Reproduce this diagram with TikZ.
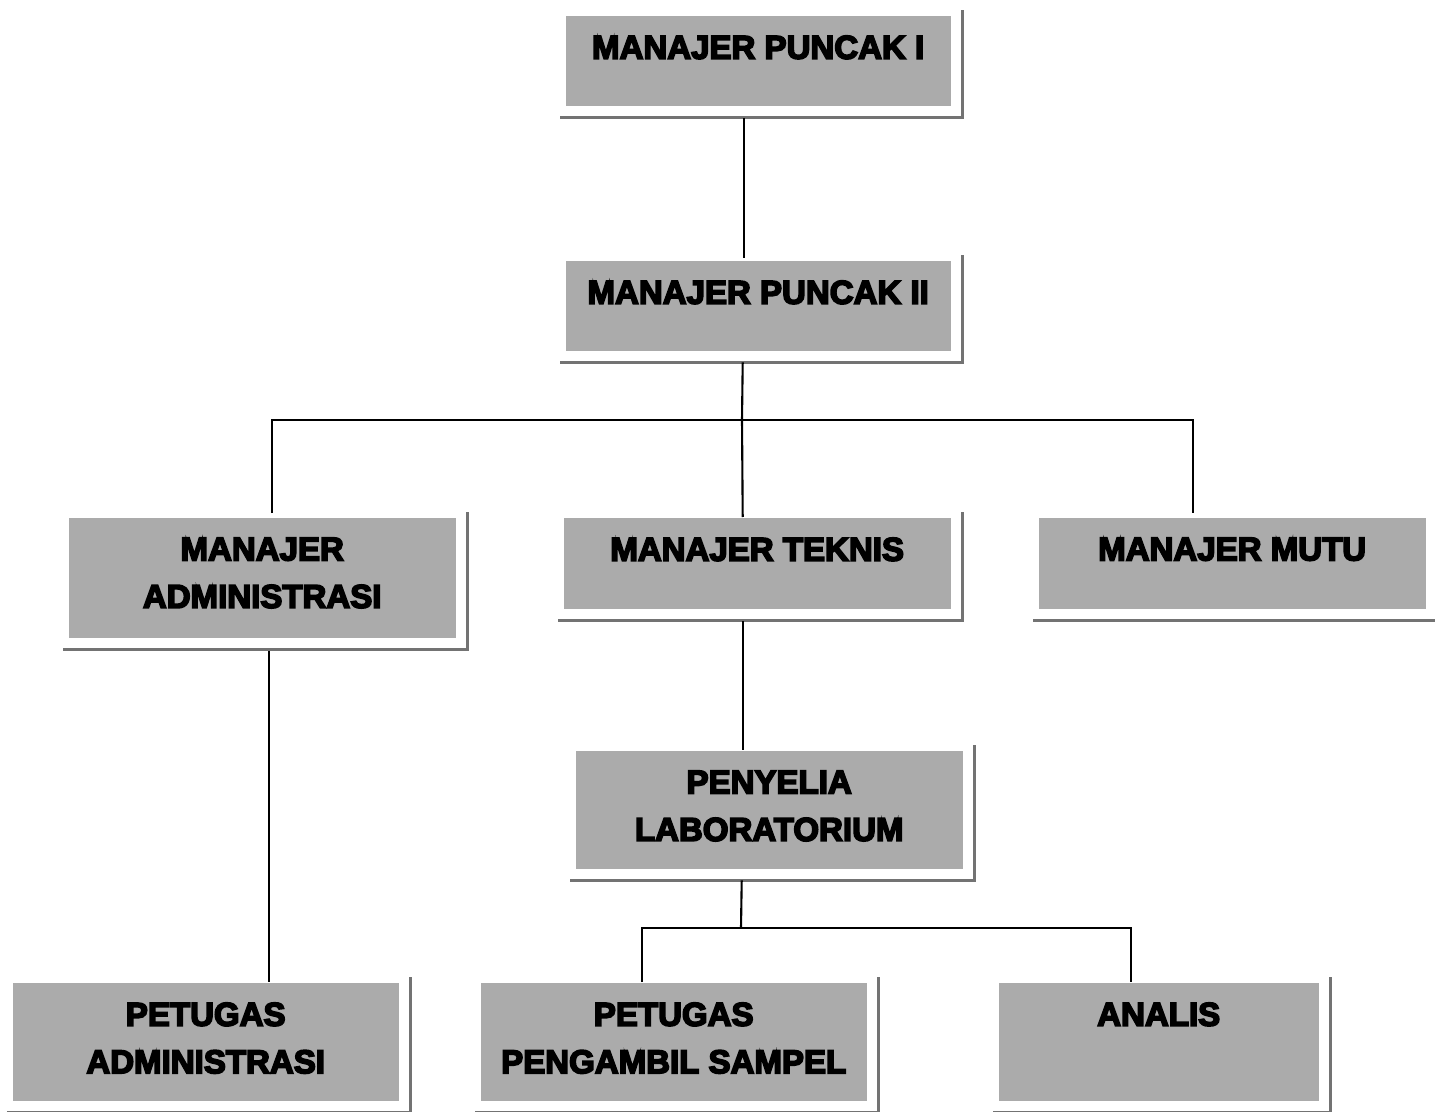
\documentclass[tikz,border=0pt]{standalone}
\usepackage{fontspec}
\usepackage{tikz}
\usetikzlibrary{positioning,calc}
\newfontfamily\boxfont{Liberation Sans Bold}[FakeBold=5]

\tikzset{
    orgbox/.style={fill=black!33, draw=none, anchor=north west, inner sep=0pt},
    orgtext/.style={anchor=north, inner sep=0pt, align=center,
        font=\boxfont\fontsize{9.4}{13.5}\selectfont},
    link/.style={line width=0.6pt, black},
    frameline/.style={line width=0.9pt, black!55}
}

\begin{document}
\begin{tikzpicture}
    \useasboundingbox (0,0) rectangle (14.35,-11.12);

    % boxes
    \node[orgbox, minimum width=3.85cm, minimum height=0.90cm] (mpa) at (5.65,-0.15) {};
    \node[orgbox, minimum width=3.85cm, minimum height=0.90cm] (mpb) at (5.65,-2.60) {};
    \node[orgbox, minimum width=3.87cm, minimum height=1.20cm] (madm) at (0.68,-5.17) {};
    \node[orgbox, minimum width=3.87cm, minimum height=0.91cm] (mtek) at (5.63,-5.17) {};
    \node[orgbox, minimum width=3.87cm, minimum height=0.91cm] (mmutu) at (10.38,-5.17) {};
    \node[orgbox, minimum width=3.87cm, minimum height=1.18cm] (peny) at (5.75,-7.50) {};
    \node[orgbox, minimum width=3.86cm, minimum height=1.18cm] (ptadm) at (0.12,-9.82) {};
    \node[orgbox, minimum width=3.86cm, minimum height=1.18cm] (ptsam) at (4.80,-9.82) {};
    \node[orgbox, minimum width=3.20cm, minimum height=1.18cm] (anl) at (9.98,-9.82) {};

    % frame lines right and below
    \foreach \b in {mpa,mpb,madm,mtek,mmutu,peny,ptadm,ptsam,anl}
        \draw[frameline] ([xshift=-0.05cm,yshift=-0.11cm]\b.south west)
            -- ([xshift=0.11cm,yshift=-0.11cm]\b.south east)
            -- ([xshift=0.11cm,yshift=0.05cm]\b.north east);

    % texts
    \node[orgtext] (mpa-t) at ([yshift=-0.20cm]mpa.north) {MANAJER PUNCAK I};
    \node[orgtext] (mpb-t) at ([yshift=-0.20cm]mpb.north) {MANAJER PUNCAK II};
    \node[orgtext] (madm-t) at ([yshift=-0.20cm]madm.north) {MANAJER\\ADMINISTRASI};
    \node[orgtext] (mtek-t) at ([yshift=-0.20cm]mtek.north) {MANAJER TEKNIS};
    \node[orgtext] (mmutu-t) at ([yshift=-0.20cm]mmutu.north) {MANAJER MUTU};
    \node[orgtext] (peny-t) at ([yshift=-0.20cm]peny.north) {PENYELIA\\LABORATORIUM};
    \node[orgtext] (ptadm-t) at ([yshift=-0.20cm]ptadm.north) {PETUGAS\\ADMINISTRASI};
    \node[orgtext] (ptsam-t) at ([yshift=-0.20cm]ptsam.north) {PETUGAS\\PENGAMBIL SAMPEL};
    \node[orgtext] (anl-t) at ([yshift=-0.20cm]anl.north) {ANALIS};

    % connectors
    \coordinate (busa) at (7.42,-4.20);
    \coordinate (busb) at (7.41,-9.28);
    \draw[link] ([xshift=-0.14cm,yshift=-0.12cm]mpa.south) -- ([xshift=-0.14cm,yshift=0.02cm]mpb.north);
    \draw[link] ([xshift=-0.155cm,yshift=-0.11cm]mpb.south) -- (busa);
    \draw[link] ([xshift=0.10cm,yshift=0.04cm]madm.north) |- (busa) -| ([xshift=-0.39cm,yshift=0.04cm]mmutu.north);
    \draw[link] (busa) -- ([xshift=-0.145cm]mtek.north);
    \draw[link] ([xshift=0.07cm,yshift=-0.13cm]madm.south) -- ([xshift=0.07cm]madm.south |- ptadm.north);
    \draw[link] ([xshift=-0.145cm,yshift=-0.12cm]mtek.south) -- ([xshift=-0.265cm]peny.north);
    \draw[link] ([xshift=-0.275cm,yshift=-0.11cm]peny.south) -- (busb);
    \draw[link] ([xshift=-0.32cm]ptsam.north) |- (busb) -| ([xshift=-0.28cm]anl.north);
\end{tikzpicture}
\end{document}
